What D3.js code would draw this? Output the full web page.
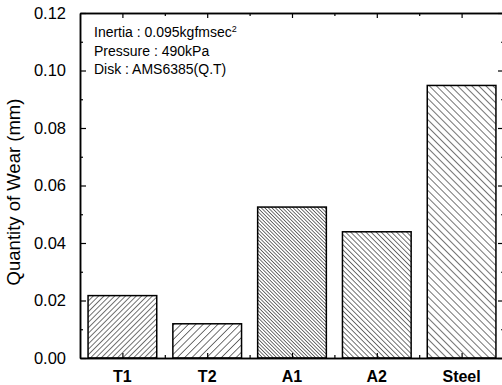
<!DOCTYPE html>
<html>
<head>
<meta charset="utf-8">
<script src="https://cdn.jsdelivr.net/npm/d3@7"></script>
<style>
  body { margin: 0; background: #fff; }
  svg { display: block; font-family: "Liberation Sans", Arial, sans-serif; }
</style>
</head>
<body>
<div id="chart"></div>
<script>
// Data
var categories = ["T1", "T2", "A1", "A2", "Steel"];
var wear = [0.0217, 0.0119, 0.0525, 0.0439, 0.0948];
var yTicks = [0.00, 0.02, 0.04, 0.06, 0.08, 0.10, 0.12];
var notes = ["Inertia : 0.095kgfmsec", "Pressure : 490kPa", "Disk : AMS6385(Q.T)"];

// Hatch style per bar: direction ("/" = 45, "\" = -45) and spacing
var hatchDir = [45, 45, -45, -45, -45];
var hatchGap = [3.8, 5.2, 2.5, 3.6, 5.0];

var svgWidth = 502;
var svgHeight = 385;
var margin = { top: 13, right: -2, bottom: 27, left: 80 };
var width = svgWidth - margin.left - margin.right;
var height = svgHeight - margin.top - margin.bottom;

var svg = d3.select("#chart")
  .append("svg")
  .attr("width", svgWidth)
  .attr("height", svgHeight);

// Hatch patterns
var defs = svg.append("defs");
categories.forEach(function(c, i) {
  var p = defs.append("pattern")
    .attr("id", "hatch" + i)
    .attr("patternUnits", "userSpaceOnUse")
    .attr("width", hatchGap[i])
    .attr("height", 10)
    .attr("patternTransform", "rotate(" + hatchDir[i] + ")");
  p.append("line")
    .attr("x1", 0).attr("y1", 0)
    .attr("x2", 0).attr("y2", 10)
    .attr("stroke", "#000")
    .attr("stroke-width", 1.1);
});

var chart = svg.append("g").attr("transform", `translate(${margin.left}, ${margin.top})`);

var x = d3.scaleBand().domain(categories).range([0, width]).paddingInner(0.19).paddingOuter(0.095);
var y = d3.scaleLinear().domain([0, 0.12]).range([height, 0]);

// Bars
chart.selectAll(".bar")
  .data(categories)
  .enter()
  .append("rect")
  .attr("x", function(d) { return x(d); })
  .attr("y", function(d, i) { return y(wear[i]); })
  .attr("width", x.bandwidth())
  .attr("height", function(d, i) { return height - y(wear[i]); })
  .attr("fill", function(d, i) { return "url(#hatch" + i + ")"; })
  .attr("stroke", "#000")
  .attr("stroke-width", 1.5);

// Axes
var minorY = d3.range(0.01, 0.12, 0.02);
var centers = categories.map(function(c) { return x(c) + x.bandwidth() / 2; });
var bounds = d3.range(1, categories.length).map(function(i) { return i * width / categories.length; });
var xPos = d3.scaleIdentity().domain([0, width]);

var leftAxis = d3.axisLeft(y).tickValues(yTicks).tickFormat(d3.format(".2f")).tickSizeInner(-6).tickSizeOuter(0).tickPadding(14);
var leftMinor = d3.axisLeft(y).tickValues(minorY).tickSizeInner(-3).tickSizeOuter(0).tickFormat("");
var rightAxis = d3.axisRight(y).tickValues(yTicks).tickSizeInner(-6).tickSizeOuter(0).tickFormat("");
var rightMinor = d3.axisRight(y).tickValues(minorY).tickSizeInner(-3).tickSizeOuter(0).tickFormat("");
var bottomAxis = d3.axisBottom(xPos).tickValues(centers).tickSizeInner(-5).tickSizeOuter(0).tickFormat("");
var bottomMinor = d3.axisBottom(xPos).tickValues(bounds).tickSizeInner(-3).tickSizeOuter(0).tickFormat("");
var topAxis = d3.axisTop(xPos).tickValues(centers).tickSizeInner(-5).tickSizeOuter(0).tickFormat("");
var topMinor = d3.axisTop(xPos).tickValues(bounds).tickSizeInner(-3).tickSizeOuter(0).tickFormat("");

chart.append("g").attr("class", "axis").call(leftAxis);
chart.append("g").attr("class", "axis").call(leftMinor);
chart.append("g").attr("class", "axis").attr("transform", `translate(${width}, 0)`).call(rightAxis);
chart.append("g").attr("class", "axis").attr("transform", `translate(${width}, 0)`).call(rightMinor);
chart.append("g").attr("class", "axis").attr("transform", `translate(0, ${height})`).call(bottomAxis);
chart.append("g").attr("class", "axis").attr("transform", `translate(0, ${height})`).call(bottomMinor);
chart.append("g").attr("class", "axis").call(topAxis);
chart.append("g").attr("class", "axis").call(topMinor);

chart.selectAll(".axis path").attr("stroke", "#000").attr("stroke-width", 1.5);
chart.selectAll(".axis line").attr("stroke", "#000").attr("stroke-width", 1.2);
chart.selectAll(".axis text")
  .attr("fill", "#000")
  .style("font-size", "16.5px")
  .style("font-family", "'Liberation Sans', Arial, sans-serif");

// Category labels
chart.selectAll(".cat")
  .data(categories)
  .enter()
  .append("text")
  .attr("x", function(d, i) { return centers[i]; })
  .attr("y", height + 24)
  .attr("text-anchor", "middle")
  .style("font-size", "16px")
  .style("font-weight", "bold")
  .text(function(d) { return d; });

// Y axis title
svg.append("text")
  .attr("transform", "translate(20, 192) rotate(-90)")
  .attr("text-anchor", "middle")
  .style("font-size", "18.5px")
  .text("Quantity of Wear (mm)");

// Notes
var noteText = svg.append("g").attr("transform", "translate(94, 0)");
notes.forEach(function(n, i) {
  var t = noteText.append("text")
    .attr("x", 0)
    .attr("y", 37 + i * 18.5)
    .style("font-size", "14px")
    .text(n);
  if (i === 0) {
    t.append("tspan").attr("dy", -5).style("font-size", "9px").text("2");
  }
});
</script>
</body>
</html>
